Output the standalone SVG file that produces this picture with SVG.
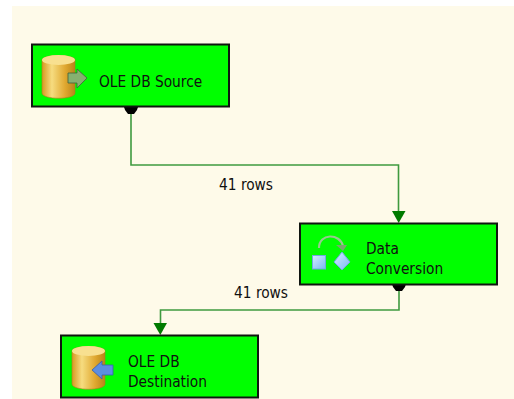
<svg xmlns="http://www.w3.org/2000/svg" width="514" height="399" viewBox="0 0 514 399">
<style>
.node{fill:#00ff00;stroke:#101510;stroke-width:2}
text{font-family:"DejaVu Sans","Liberation Sans",sans-serif;font-size:15.300px;font-stretch:condensed;fill:#101010}
.conn{fill:none;stroke:#3f9a3f;stroke-width:1.6}
.arrow{fill:#007a00}
.port{fill:#000}
</style>
<defs>
<linearGradient id="gold" x1="0" x2="1" y1="0" y2="0"><stop offset="0" stop-color="#d89a20"/><stop offset=".3" stop-color="#f6dc80"/><stop offset=".7" stop-color="#e0a830"/><stop offset="1" stop-color="#b88418"/></linearGradient>
<linearGradient id="blue" x1="0" x2="1" y1="0" y2="1"><stop offset="0" stop-color="#d4ecff"/><stop offset="1" stop-color="#7ab8f0"/></linearGradient>
<g id="cyl">
<path d="M0 6C0 0 33 0 33 6V39C33 46 0 46 0 39Z" fill="url(#gold)" stroke="#a87c20" stroke-width=".6"/>
<ellipse cx="16.500" cy="6" rx="16.500" ry="5" fill="#f8e090"/>
</g>
</defs>
<rect x="0" y="0" width="514" height="399" fill="#ffffff"/>
<rect x="12" y="6" width="502" height="393" fill="#fefae9"/>
<g id="connectors">
<path class="conn" d="M131 112V165H398.500V212"/>
<path class="conn" d="M399 290V310H160.500V324"/>
<path class="arrow" d="M392 211H405.500L398.700 223Z"/>
<path class="arrow" d="M153.500 323H167L160.300 335Z"/>
<path class="port" d="M124 107H138L137 110L134 114H128L125 110Z"/>
<path class="port" d="M392 284H406L405 287L402 291H396L393 287Z"/>
<text x="219" y="190">41 rows</text>
<text x="234" y="298">41 rows</text>
</g>
<g id="source">
<rect class="node" x="32" y="44.500" width="197" height="62"/>
<use href="#cyl" x="42" y="54"/>
<path d="M68 73H77V69L87 78L77 88V83H68Z" fill="#86b070" stroke="#40603a" stroke-width=".8"/>
<text x="99" y="87">OLE DB Source</text>
</g>
<g id="conversion">
<rect class="node" x="300" y="223.500" width="197" height="61"/>
<path d="M319 248C319 233 340 233 343 246" fill="none" stroke="#98c890" stroke-width="2.200"/>
<path d="M336 245H347L343 251Z" fill="#78a870"/>
<rect x="312.500" y="255.500" width="13" height="13.500" fill="url(#blue)" stroke="#70a8e0"/>
<path d="M342 252L350 262L342 270L334 262Z" fill="url(#blue)" stroke="#70a8e0"/>
<text x="366" y="254">Data</text>
<text x="366" y="274">Conversion</text>
</g>
<g id="destination">
<rect class="node" x="61" y="335.500" width="197" height="62"/>
<use href="#cyl" x="72" y="345"/>
<path d="M92 370L102 361V365H113V375H102V379Z" fill="#5c8ee0" stroke="#3860a8" stroke-width=".8"/>
<text x="128" y="367">OLE DB</text>
<text x="128" y="387">Destination</text>
</g>
</svg>
